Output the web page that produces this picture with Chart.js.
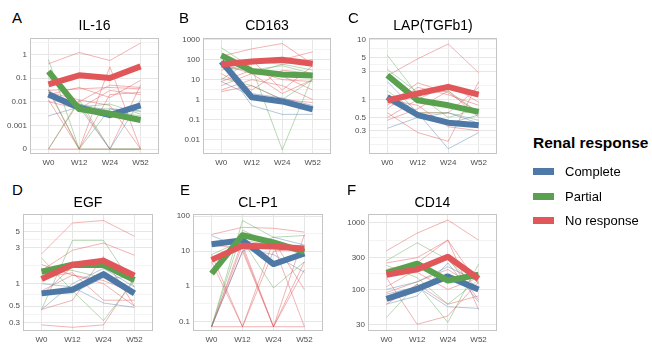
<!DOCTYPE html>
<html>
<head>
<meta charset="utf-8">
<script src="https://cdn.jsdelivr.net/npm/chart.js@4.4.1/dist/chart.umd.min.js"></script>
<style>
  html, body { margin: 0; padding: 0; background: #fff; }
  body { width: 652px; height: 346px; position: relative; overflow: hidden; font-family: "Liberation Sans", Arial, sans-serif; }
  canvas { position: absolute; }
  .txt { position: absolute; white-space: nowrap; color: #000; }
  .key { position: absolute; width: 21px; height: 7px; }
</style>
</head>
<body>
<script>
// time points
const weeks = ['W0', 'W12', 'W24', 'W52'];
const groups = ['Complete', 'Partial', 'No response'];

// A  IL-16  (0 plotted at 1e-4)
const il16Ticks = [0.0001, 0.001, 0.01, 0.1, 1];
const il16TickLabels = ['0', '0.001', '0.01', '0.1', '1'];
const il16MeanComplete = [0.020, 0.0056, 0.0027, 0.0070];
const il16MeanPartial = [0.19, 0.0049, 0.0031, 0.0017];
const il16MeanNone = [0.054, 0.13, 0.10, 0.31];
const il16Complete = [[0.0025, 0.006, 0.0001, 0.012], [0.03, 0.005, 0.005, 0.004], [0.025, 0.008, 0.003, 0.006]];
const il16Partial = [[0.6, 0.0001, 0.0001, 0.0001], [0.1, 0.006, 0.008, 0.003], [0.03, 0.0001, 0.005, 0.004],
  [0.0001, 0.012, 0.0001, 0.0001], [0.02, 0.008, 0.004, 0.0025]];
const il16None = [[0.4, 1.2, 0.55, 3], [0.03, 0.035, 0.04, 0.035], [0.02, 0.04, 0.015, 0.08], [0.012, 0.0001, 0.3, 0.0001],
  [0.035, 0.0001, 0.02, 0.025], [0.0001, 0.0001, 0.0001, 0.0001], [0.015, 0.008, 0.0001, 0.05],
  [0.025, 0.012, 0.007, 0.0001], [0.01, 0.005, 0.03, 0.02], [0.0001, 0.01, 0.05, 0.04]];

// B  CD163
const cd163Ticks = [0.01, 0.1, 1, 10, 100, 1000];
const cd163TickLabels = ['0.01', '0.1', '1', '10', '100', '1000'];
const cd163MeanComplete = [80, 1.3, 0.8, 0.32];
const cd163MeanPartial = [165, 27, 18, 16];
const cd163MeanNone = [58, 82, 100, 63];
const cd163Complete = [[70, 0.5, 0.18, 0.18], [8, 1.5, 1, 0.3], [150, 2, 1.2, 0.5]];
const cd163Partial = [[400, 40, 0.003, 15], [200, 20, 60, 30], [12, 5, 1, 10], [40, 30, 50, 20]];
const cd163None = [[150, 350, 650, 60], [30, 60, 100, 250], [10, 100, 3, 50], [5, 20, 2, 10], [3, 10, 5, 1],
  [50, 80, 60, 100], [20, 3, 30, 20], [2.5, 5, 1, 0.7], [8, 30, 10, 8], [60, 20, 15, 3]];

// C  LAP(TGFb1)
const lapTicks = [0.3, 0.5, 1, 3, 5, 10];
const lapTickLabels = ['0.3', '0.5', '1', '3', '5', '10'];
const lapMeanComplete = [1.1, 0.55, 0.41, 0.37];
const lapMeanPartial = [2.55, 0.97, 0.8, 0.62];
const lapMeanNone = [0.97, 1.26, 1.63, 1.21];
const lapComplete = [[2.0, 0.6, 0.15, 0.28], [0.33, 0.5, 0.4, 0.55], [1.2, 0.5, 0.6, 0.4]];
const lapPartial = [[5.5, 1.2, 0.5, 0.7], [3.2, 1.3, 1.4, 0.6], [1.4, 0.6, 0.6, 0.45]];
const lapNone = [[2.5, 4.8, 8.5, 2.8], [0.8, 1.9, 1.3, 0.6], [0.6, 0.28, 0.2, 2], [0.5, 1, 1.8, 0.9],
  [0.9, 0.6, 0.6, 1.6], [0.7, 1.6, 1.2, 0.8], [1.0, 0.8, 0.35, 0.3], [0.45, 0.7, 1.4, 0.5]];

// D  EGF
const egfTicks = [0.3, 0.5, 1, 3, 5];
const egfTickLabels = ['0.3', '0.5', '1', '3', '5'];
const egfMeanComplete = [0.74, 0.83, 1.34, 0.74];
const egfMeanPartial = [1.44, 1.79, 1.77, 1.12];
const egfMeanNone = [1.15, 1.79, 2.02, 1.28];
const egfComplete = [[1.0, 0.9, 0.55, 0.48], [0.45, 1.0, 1.6, 0.9], [0.75, 0.75, 1.2, 0.7]];
const egfPartial = [[2.2, 0.8, 0.32, 1.1], [0.45, 3.8, 3.8, 0.9], [1.6, 1.5, 1.2, 1.2]];
const egfNone = [[2.5, 6.5, 7, 4.3], [1.5, 2.8, 3.5, 2.4], [0.28, 0.26, 0.28, 1.2], [0.45, 0.6, 2.3, 0.5],
  [0.8, 1.3, 1, 0.5], [1.2, 1.4, 0.6, 0.6], [0.7, 1.7, 2.2, 1.4], [1.8, 1.3, 1.1, 0.75]];

// E  CL-P1  (0 plotted at 0.07)
const clp1Ticks = [0.1, 1, 10, 100];
const clp1TickLabels = ['0.1', '1', '10', '100'];
const clp1MeanComplete = [15.8, 20.6, 4.3, 8.6];
const clp1MeanPartial = [2.3, 28.6, 17.7, 9.6];
const clp1MeanNone = [5.65, 14.2, 13.6, 11.9];
const clp1Complete = [[28, 12, 8, 2.5], [0.07, 10, 25, 15]];
const clp1Partial = [[0.07, 75, 25, 28], [8, 20, 0.9, 5], [0.07, 40, 15, 10]];
const clp1None = [[30, 48, 45, 35], [0.07, 15, 0.07, 30], [8, 0.07, 20, 0.8], [0.07, 10, 0.07, 3],
  [0.07, 0.07, 0.07, 0.07], [5, 0.07, 10, 12], [0.07, 20, 15, 0.07], [15, 12, 0.07, 5]];

// F  CD14
const cd14Ticks = [30, 100, 300, 1000];
const cd14TickLabels = ['30', '100', '300', '1000'];
const cd14MeanComplete = [72, 102, 157, 100];
const cd14MeanPartial = [178, 243, 136, 166];
const cd14MeanNone = [166, 200, 310, 145];
const cd14Complete = [[85, 110, 55, 52], [60, 80, 250, 65], [100, 130, 220, 130]];
const cd14Partial = [[270, 500, 280, 100], [38, 120, 32, 240], [230, 150, 60, 140]];
const cd14None = [[380, 700, 1100, 550], [250, 300, 550, 50], [150, 30, 40, 130], [110, 200, 300, 70],
  [200, 250, 550, 120], [60, 120, 60, 80], [170, 180, 100, 150], [90, 130, 200, 100]];

const COLORS = { complete: '#4e79a7', partial: '#59a14f', none: '#e15759' };
const THIN = { complete: 'rgba(78,121,167,0.42)', partial: 'rgba(89,161,79,0.42)', none: 'rgba(225,87,89,0.45)' };
const FONT = '"Liberation Sans", Arial, sans-serif';

const panels = [
  { letter: 'A', title: 'IL-16', x0: 30, x1: 159, y0: 38, y1: 154, min: 6.2e-5, max: 4.9,
    ticks: il16Ticks, labels: il16TickLabels, mean: [il16MeanNone, il16MeanPartial, il16MeanComplete],
    thin: [il16Complete, il16Partial, il16None] },
  { letter: 'B', title: 'CD163', x0: 203, x1: 331, y0: 38, y1: 154, min: 0.00184, max: 1230,
    ticks: cd163Ticks, labels: cd163TickLabels, mean: [cd163MeanNone, cd163MeanPartial, cd163MeanComplete],
    thin: [cd163Complete, cd163Partial, cd163None] },
  { letter: 'C', title: 'LAP(TGFb1)', x0: 369, x1: 497, y0: 38, y1: 154, min: 0.1226, max: 10.7,
    ticks: lapTicks, labels: lapTickLabels, mean: [lapMeanNone, lapMeanPartial, lapMeanComplete],
    thin: [lapComplete, lapPartial, lapNone] },
  { letter: 'D', title: 'EGF', x0: 23, x1: 153, y0: 214, y1: 331, min: 0.232, max: 8.56,
    ticks: egfTicks, labels: egfTickLabels, mean: [egfMeanNone, egfMeanPartial, egfMeanComplete],
    thin: [egfComplete, egfPartial, egfNone] },
  { letter: 'E', title: 'CL-P1', x0: 193, x1: 323, y0: 214, y1: 331, min: 0.0529, max: 115,
    ticks: clp1Ticks, labels: clp1TickLabels, mean: [clp1MeanNone, clp1MeanPartial, clp1MeanComplete],
    thin: [clp1Complete, clp1Partial, clp1None] },
  { letter: 'F', title: 'CD14', x0: 368, x1: 497, y0: 214, y1: 331, min: 23.8, max: 1355,
    ticks: cd14Ticks, labels: cd14TickLabels, mean: [cd14MeanNone, cd14MeanPartial, cd14MeanComplete],
    thin: [cd14Complete, cd14Partial, cd14None] },
];

function addText(text, x, cy, size, opts) {
  opts = opts || {};
  const d = document.createElement('div');
  d.className = 'txt';
  d.textContent = text;
  d.style.fontSize = size + 'px';
  d.style.lineHeight = size + 'px';
  d.style.top = (cy - 0.49 * size) + 'px';
  d.style.left = x + 'px';
  if (opts.center) d.style.transform = 'translateX(-50%)';
  if (opts.bold) d.style.fontWeight = 'bold';
  if (opts.color) d.style.color = opts.color;
  document.body.appendChild(d);
}

// ggplot-like minor breaks: midpoints in log space, extended one step past the ends
function minorBreaks(majors, min, max) {
  const lg = majors.map(Math.log10);
  const bd = lg[1] - lg[0];
  const ext = [lg[0] - bd].concat(lg, [lg[lg.length - 1] + bd]);
  const out = [];
  for (let i = 0; i < ext.length - 1; i++) {
    out.push(ext[i], (ext[i] + ext[i + 1]) / 2);
  }
  out.push(ext[ext.length - 1]);
  return out.map(v => Math.pow(10, v))
    .filter(v => v >= min && v <= max && !majors.some(m => Math.abs(m / v - 1) < 1e-6));
}

const frame = {
  id: 'frame',
  afterDatasetsDraw(chart) {
    const a = chart.chartArea, ctx = chart.ctx;
    ctx.save();
    ctx.strokeStyle = '#c4c4c4';
    ctx.lineWidth = 1;
    ctx.strokeRect(Math.round(a.left) + 0.5, Math.round(a.top) + 0.5, Math.round(a.width) - 1, Math.round(a.height) - 1);
    ctx.restore();
  }
};

function toPoints(vals) {
  return vals.map((v, i) => ({ x: i, y: v }));
}

function makePanel(p) {
  const padT = 8, padR = 2, yW = 40, xH = 20;
  const cv = document.createElement('canvas');
  const w = (p.x1 - p.x0) + yW + padR;
  const h = (p.y1 - p.y0) + padT + xH;
  cv.width = w; cv.height = h;
  cv.style.left = (p.x0 - yW) + 'px';
  cv.style.top = (p.y0 - padT) + 'px';
  cv.style.width = w + 'px'; cv.style.height = h + 'px';
  document.body.appendChild(cv);

  const minors = minorBreaks(p.ticks, p.min, p.max);
  const allTicks = p.ticks.concat(minors).sort((a, b) => a - b);
  const isMajor = v => p.ticks.some(m => Math.abs(m / v - 1) < 1e-6);

  const datasets = [];
  const meanCols = [COLORS.none, COLORS.partial, COLORS.complete];
  p.mean.forEach((vals, k) => {
    datasets.push({ data: toPoints(vals), borderColor: meanCols[k], borderWidth: 6,
      pointRadius: 0, borderCapStyle: 'butt', borderJoinStyle: 'round', tension: 0 });
  });
  const thinCols = [THIN.complete, THIN.partial, THIN.none];
  p.thin.forEach((lines, k) => {
    lines.forEach(vals => {
      datasets.push({ data: toPoints(vals), borderColor: thinCols[k], borderWidth: 1,
        pointRadius: 0, tension: 0 });
    });
  });

  new Chart(cv, {
    type: 'line',
    data: { datasets },
    plugins: [frame],
    options: {
      responsive: false,
      animation: false,
      events: [],
      layout: { padding: { top: padT, right: padR, left: 0, bottom: 0 } },
      plugins: { legend: { display: false }, tooltip: { enabled: false } },
      scales: {
        x: {
          type: 'linear', min: -0.6, max: 3.6,
          afterBuildTicks: s => { s.ticks = weeks.map((wk, i) => ({ value: i })); },
          afterFit: s => { s.height = xH; },
          ticks: { callback: v => weeks[v] || '', font: { size: 8, family: FONT }, color: '#4d4d4d',
            padding: 4, maxRotation: 0, autoSkip: false },
          grid: { color: '#e6e6e6', lineWidth: 1, drawTicks: false },
          border: { display: false }
        },
        y: {
          type: 'logarithmic', min: p.min, max: p.max,
          afterBuildTicks: s => { s.ticks = allTicks.map(v => ({ value: v })); },
          afterFit: s => { s.width = yW; },
          ticks: {
            callback: v => { const i = p.ticks.findIndex(m => Math.abs(m / v - 1) < 1e-6); return i >= 0 ? p.labels[i] : ''; },
            font: { size: 8, family: FONT }, color: '#4d4d4d', padding: 3, autoSkip: false
          },
          grid: { color: ctx => (ctx.tick && isMajor(ctx.tick.value)) ? '#e6e6e6' : '#f3f3f3', lineWidth: 1, drawTicks: false },
          border: { display: false }
        }
      }
    }
  });

  const top = p.y0 < 100;
  addText(p.letter, p.x0 - (p.x0 > 300 ? 21 : (p.x0 > 150 ? (top ? 24 : 13) : (top ? 18 : 11))), top ? 17.3 : 189.7, 15);
  addText(p.title, (p.x0 + p.x1) / 2, top ? 24.7 : 202.3, 14, { center: true });
}

panels.forEach(makePanel);

// legend
addText('Renal response', 533, 142.7, 15.5, { bold: true });
const keyCols = [COLORS.complete, COLORS.partial, COLORS.none];
const keyY = [171, 196, 220.3];
groups.forEach((g, i) => {
  const k = document.createElement('div');
  k.className = 'key';
  k.style.left = '533px';
  k.style.top = (keyY[i] - 3.5) + 'px';
  k.style.background = keyCols[i];
  document.body.appendChild(k);
  addText(g, 565, keyY[i], 13);
});
</script>
</body>
</html>
